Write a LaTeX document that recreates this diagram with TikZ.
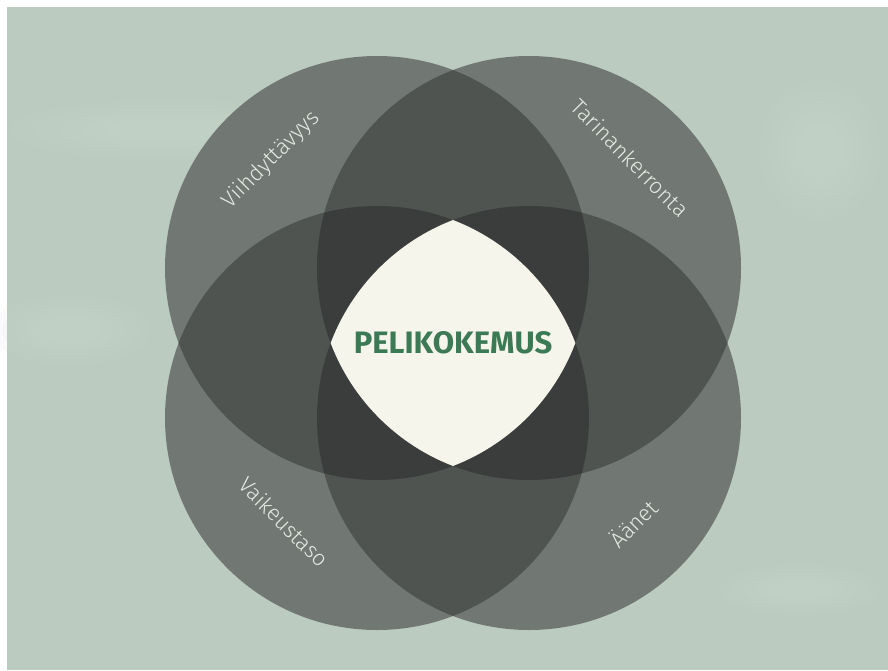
\documentclass[tikz,border=0pt]{standalone}
\usepackage{fontspec}
\setmainfont{Fira Sans}
\newfontfamily\lightfont{Fira Sans Light}
\definecolor{bg}{HTML}{BCCBBF}
\definecolor{bglight}{HTML}{CCDBD0}
\definecolor{one}{HTML}{717873}
\definecolor{two}{HTML}{4F5451}
\definecolor{three}{HTML}{3A3D3B}
\definecolor{cream}{HTML}{F5F5EB}
\definecolor{titlegreen}{HTML}{3C7A55}
\definecolor{labelc}{HTML}{E6E9E3}
\tikzset{
  blob/.style={fill=bglight, opacity=0.1},
  lbl/.style={text=labelc, font=\lightfont\fontsize{22}{26}\selectfont, inner sep=0pt},
  ttl/.style={text=titlegreen, font=\bfseries\fontsize{31}{36}\selectfont, inner sep=0pt}
}
\begin{document}
\begin{tikzpicture}[x=1pt,y=-1pt]
\useasboundingbox (0,0) rectangle (888,670);
\fill[white] (0,0) rectangle (888,670);
\fill[bg] (7,7) rectangle (888,670);
% soft background blobs
\foreach \s in {1,0.85,0.7,0.55,0.4}{
  \fill[blob] (170,130) ellipse ({160*\s} and {30*\s});
  \fill[blob] (70,330) ellipse ({80*\s} and {35*\s});
  \fill[blob] (820,150) ellipse ({60*\s} and {70*\s});
  \fill[blob] (800,590) ellipse ({80*\s} and {25*\s});
}
\coordinate (tl) at (377,268);
\coordinate (tr) at (529,268);
\coordinate (bl) at (377,418);
\coordinate (br) at (529,418);
\def\R{212pt}
% single
\foreach \c in {tl,tr,bl,br} \fill[one] (\c) circle (\R);
% double
\foreach \a/\b in {tl/tr,tl/bl,tl/br,tr/bl,tr/br,bl/br}{
  \begin{scope}
    \clip (\a) circle (\R);
    \fill[two] (\b) circle (\R);
  \end{scope}
}
% triple
\foreach \a/\b/\c in {tl/tr/bl,tl/tr/br,tl/bl/br,tr/bl/br}{
  \begin{scope}
    \clip (\a) circle (\R);
    \clip (\b) circle (\R);
    \fill[three] (\c) circle (\R);
  \end{scope}
}
% all four
\begin{scope}
  \clip (tl) circle (\R);
  \clip (tr) circle (\R);
  \clip (bl) circle (\R);
  \fill[cream] (br) circle (\R);
\end{scope}
\node[ttl] (title) at (453,343) {PELIKOKEMUS};
\node[lbl, rotate=45] (viih) at (271,160) {Viihdyttävyys};
\node[lbl, rotate=-45] (tari) at (630,158) {Tarinankerronta};
\node[lbl, rotate=-45] (vaik) at (284,522) {Vaikeustaso};
\node[lbl, rotate=45] (aane) at (633,523) {Äänet};
\end{tikzpicture}
\end{document}
